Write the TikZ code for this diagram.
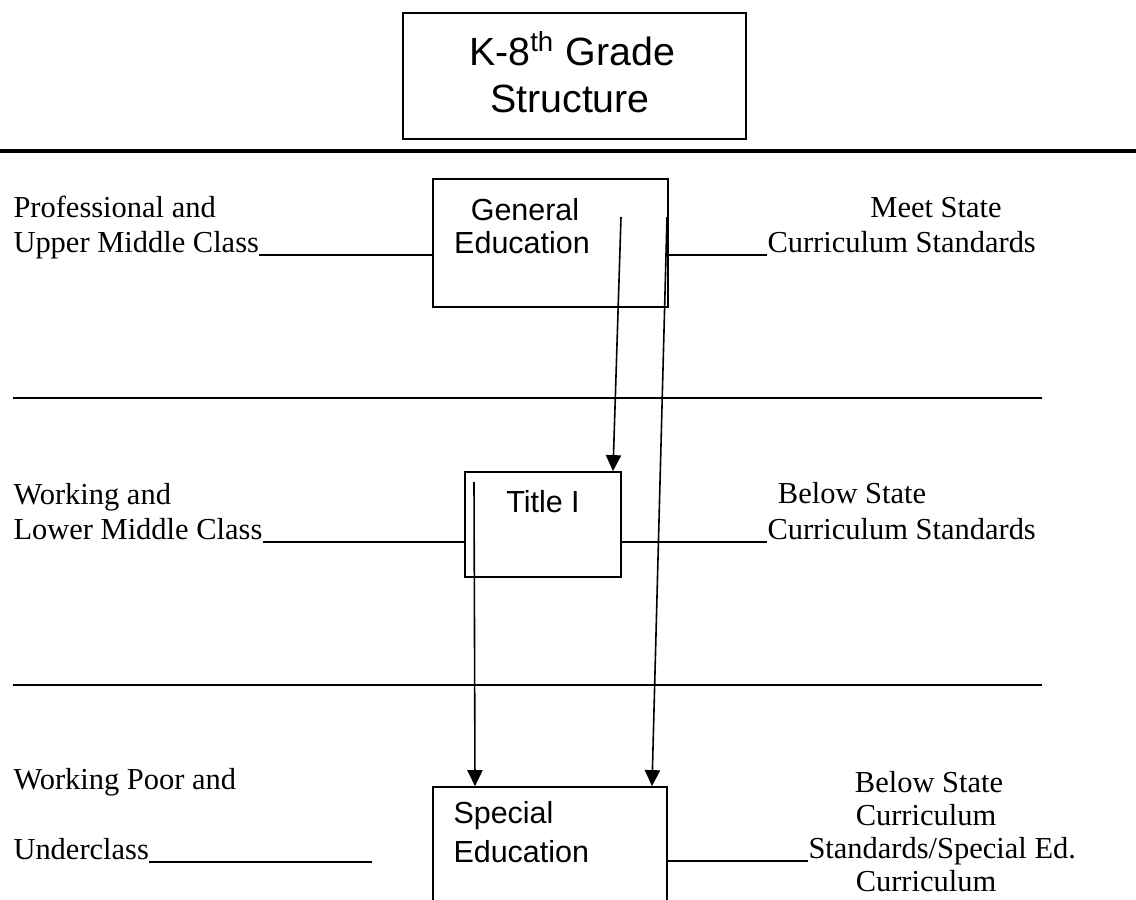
\documentclass[tikz,border=0pt]{standalone}
\usepackage{fontspec}
\usepackage{tikz}
\usetikzlibrary{arrows.meta}
\setmainfont{Liberation Serif}
\newfontfamily\arialf{Liberation Sans}
\newdimen\pxu
\pxu=0.013837cm

\tikzset{
  box/.style={draw, line width=1.8\pxu, inner sep=0pt},
  tnr/.style={font=\fontsize{12}{13.8}\selectfont, inner sep=0pt},
  sans/.style={font=\arialf\fontsize{12}{13.8}\selectfont, inner sep=0pt},
  conn/.style={line width=1.4\pxu},
  arr/.style={line width=1.6\pxu, -{Triangle[length=6.3pt, width=6pt]}},
}

\begin{document}
\begin{tikzpicture}[x=0.013837cm, y=-0.013837cm]
        \useasboundingbox (0,0) rectangle (1136,899);
        \clip (0,0) rectangle (1136,899);

        \node[box, minimum width=343\pxu, minimum height=126\pxu] (hdr) at (574.5,76) {};
        \node[sans, font=\arialf\fontsize{15.5}{17}\selectfont, anchor=base] (hdr1) at (572,65) {K-8\textsuperscript{th} Grade};
        \node[sans, font=\arialf\fontsize{15.5}{17}\selectfont, anchor=base] (hdr2) at (570,112) {Structure};
        \draw[line width=4\pxu] (0,151) -- (1136,151);

        \node[box, minimum width=235\pxu, minimum height=128\pxu] (gen) at (550.5,243) {};
        \node[sans, anchor=base] (gen1) at (525,220) {General};
        \node[sans, anchor=base] (gen2) at (522,253) {Education};
        \node[box, minimum width=156\pxu, minimum height=105\pxu] (tone) at (543,524.5) {};
        \node[sans, anchor=base] (tone1) at (543,512) {Title I};
        \node[box, minimum width=234\pxu, minimum height=173\pxu] (sped) at (550,873.5) {};
        \node[sans, anchor=base west] (sped1) at (453,823) {Special};
        \node[sans, anchor=base west] (sped2) at (453,862) {Education};

        \node[tnr, anchor=base west] (prof) at (13,217) {Professional and};
        \node[tnr, anchor=base west] (upper) at (13,252) {Upper Middle Class};
        \node[tnr, anchor=base west] (work) at (13,504) {Working and};
        \node[tnr, anchor=base west] (lower) at (13,539) {Lower Middle Class};
        \node[tnr, anchor=base west] (poor) at (13,789) {Working Poor and};
        \node[tnr, anchor=base west] (under) at (13,859) {Underclass};

        \node[tnr, anchor=base] (meet) at (936,217) {Meet State};
        \node[tnr, anchor=base west] (std1) at (767,252) {Curriculum Standards};
        \node[tnr, anchor=base] (below) at (852,503) {Below State};
        \node[tnr, anchor=base west] (std2) at (767,539) {Curriculum Standards};
        \node[tnr, anchor=base] (below3) at (929,792) {Below State};
        \node[tnr, anchor=base] (cur3) at (926,825) {Curriculum};
        \node[tnr, anchor=base west] (std3) at (808,858) {Standards/Special Ed.};
        \node[tnr, anchor=base] (cur4) at (926,891) {Curriculum};

        \coordinate (l1) at ([yshift=-3\pxu]upper.base east);
        \coordinate (l2) at ([yshift=-3\pxu]lower.base east);
        \coordinate (l3) at ([yshift=-3\pxu]under.base east);
        \coordinate (l3e) at (372,862);
        \coordinate (r1) at ([yshift=-3\pxu]std1.base west);
        \coordinate (r2) at ([yshift=-3\pxu]std2.base west);
        \coordinate (r3) at ([yshift=-3\pxu]std3.base west);
        \draw[conn] (l1) -- (l1 -| gen.west);
        \draw[conn] (l2) -- (l2 -| tone.west);
        \draw[conn] (l3) -- (l3e);
        \draw[conn] (r1) -- (r1 -| gen.east);
        \draw[conn] (r2) -- (r2 -| tone.east);
        \draw[conn] (r3) -- (r3 -| sped.east);

        \draw[line width=2\pxu] (13,398) -- (1042,398);
        \draw[line width=2\pxu] (13,685) -- (1042,685);

        \coordinate (a1) at (621,217);
        \coordinate (a2) at (667,217);
        \coordinate (a3) at (474,482);
        \coordinate (t1) at (613,472);
        \coordinate (t2) at (652,787);
        \coordinate (t3) at (475,787);
        \draw[arr] (a1) -- (t1 |- tone.north);
        \draw[arr] (a2) -- (t2 |- sped.north);
        \draw[arr] (a3) -- (t3 |- sped.north);
      \end{tikzpicture}
\end{document}
